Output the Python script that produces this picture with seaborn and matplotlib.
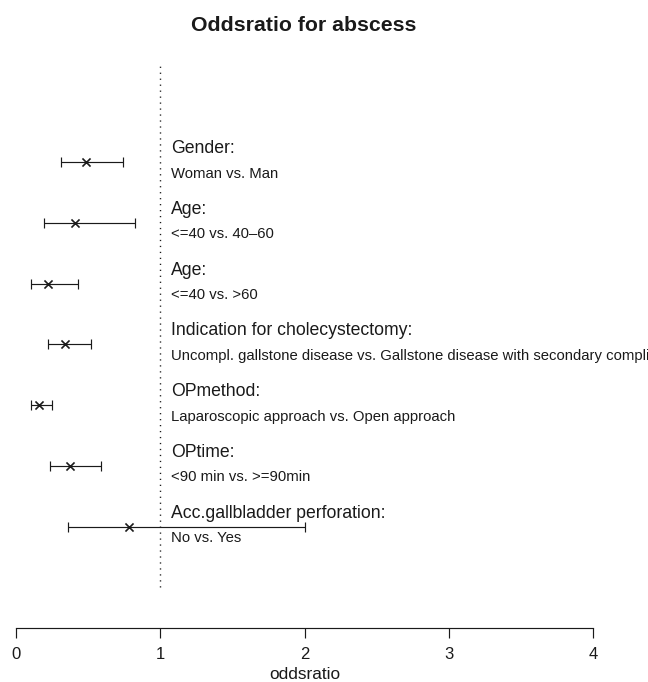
import numpy as np
import pandas as pd
import matplotlib
matplotlib.use("Agg")
import matplotlib.pyplot as plt
import seaborn as sns

# Odds ratios with 95% confidence limits for abscess risk factors
factors = ["Gender:", "Age:", "Age:", "Indication for cholecystectomy:",
           "OPmethod:", "OPtime:", "Acc.gallbladder perforation:"]
comparisons = ["Woman vs. Man", "<=40 vs. 40–60", "<=40 vs. >60",
               "Uncompl. gallstone disease vs. Gallstone disease with secondary complications",
               "Laparoscopic approach vs. Open approach",
               "<90 min vs. >=90min", "No vs. Yes"]
odds = [0.48, 0.41, 0.22, 0.335, 0.16, 0.37, 0.78]
lower = [0.31, 0.19, 0.105, 0.22, 0.105, 0.235, 0.36]
upper = [0.74, 0.82, 0.43, 0.515, 0.245, 0.59, 2.0]
xticks = [0, 1, 2, 3, 4]

sns.set_style("white")
plt.rcParams["font.family"] = ["Liberation Sans", "DejaVu Sans"]

n = len(factors)
df = pd.DataFrame({
    "factor": factors,
    "comparison": comparisons,
    "odds": odds,
    "lower": lower,
    "upper": upper,
    "row": np.arange(n, 0, -1),
})

W, H = 648, 682
fig = plt.figure(figsize=(W / 100, H / 100), dpi=100)
ax = fig.add_axes([16.3 / W, (H - 628.3) / H, (593 - 16.3) / W, (628.3 - 65) / H])

ink = "#1a1a1a"

# reference line at OR = 1
ax.vlines(1, 0, 8.596, colors=ink, linewidth=1.0, linestyles=(0, (0.9, 3.4)))

# confidence intervals with end caps
ax.errorbar(df["odds"], df["row"],
            xerr=[df["odds"] - df["lower"], df["upper"] - df["odds"]],
            fmt="none", ecolor=ink, elinewidth=0.85, capsize=3.8, capthick=0.85)

# point estimates
sns.scatterplot(data=df, x="odds", y="row", marker="x", s=34, color=ink,
                linewidth=1.2, ax=ax, legend=False, zorder=3)

# factor names above, comparison below each row
for _, r in df.iterrows():
    ax.annotate(r["factor"], xy=(1, r["row"]), xytext=(10.5, 9),
                textcoords="offset pixels", ha="left", va="baseline",
                fontsize=12.7, color=ink)
    ax.annotate(r["comparison"], xy=(1, r["row"]), xytext=(10.5, -15.5),
                textcoords="offset pixels", ha="left", va="baseline",
                fontsize=10.7, color=ink)

ax.set_xlim(0, 4)
ax.set_ylim(-0.672, 8.596)
ax.set_xticks(xticks)
ax.set_xticklabels([str(t) for t in xticks])
ax.set_yticks([])
ax.set_xlabel("oddsratio", fontsize=12.4, color=ink, labelpad=3.6)
ax.set_ylabel("")

for side in ["top", "right", "left"]:
    ax.spines[side].set_visible(False)
ax.spines["bottom"].set_color(ink)
ax.spines["bottom"].set_linewidth(0.85)
ax.tick_params(axis="x", direction="out", length=7.2, width=0.85, pad=6,
               colors=ink, labelsize=12, bottom=True)
ax.patch.set_alpha(0)

fig.text(304 / W, 1 - 31 / H, "Oddsratio for abscess", ha="center",
         va="baseline", fontsize=15.3, fontweight="bold", color=ink)

fig.savefig("out.png", dpi=100)
